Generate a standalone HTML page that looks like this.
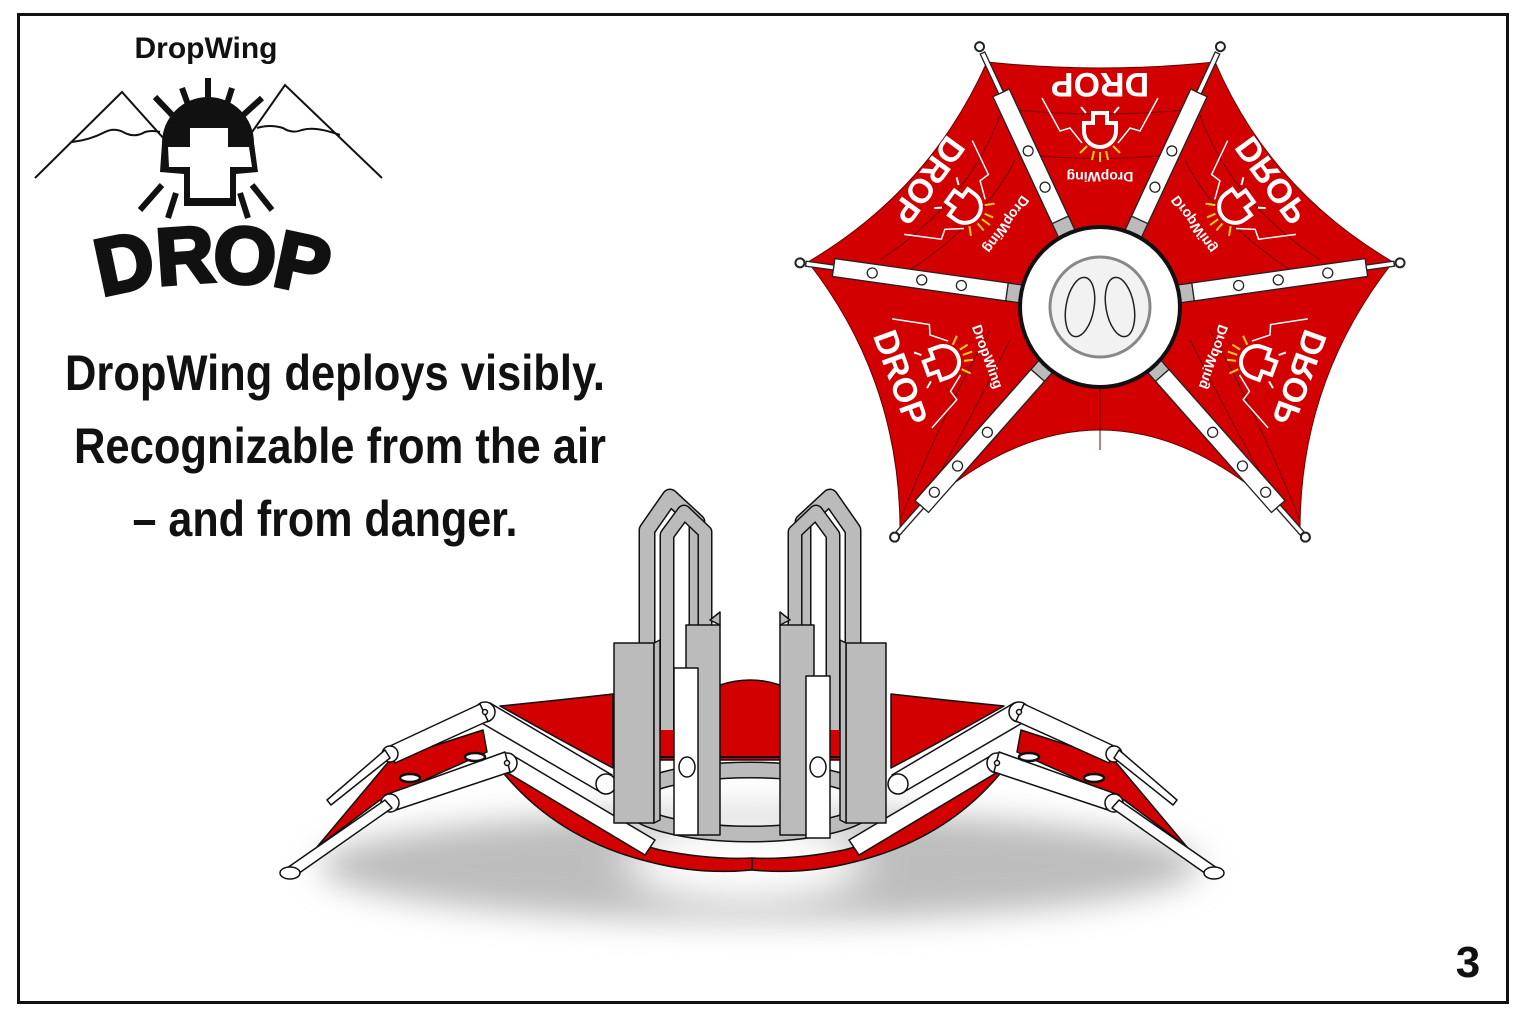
<!DOCTYPE html>
<html><head><meta charset="utf-8"><style>
html,body{margin:0;padding:0;background:#fff;}
svg{display:block;}
</style></head><body>
<svg width="1528" height="1024" viewBox="0 0 1528 1024" xmlns="http://www.w3.org/2000/svg">
<defs>
<filter id="bl" x="-20%" y="-80%" width="140%" height="260%"><feGaussianBlur stdDeviation="16"/></filter>
<filter id="bl2" x="-50%" y="-100%" width="200%" height="300%"><feGaussianBlur stdDeviation="22"/></filter>
<g id="emb">
  <path d="M-18,-10 L-30,5 L-40,2 L-58,35 M18,-10 L30,5 L40,2 L58,35" stroke="#fff" stroke-width="1.5" fill="none"/>
  <path d="M-16,2 A16,16 0 0 1 16,2 L16,10 L7,10 L7,20 L-7,20 L-7,10 L-16,10 Z" fill="none" stroke="#fff" stroke-width="4"/>
  <path d="M-6,-18 L-8,-27 M0,-19 L0,-29 M6,-18 L8,-27 M-13,-13 L-20,-20 M13,-13 L20,-20" stroke="#ffd200" stroke-width="2"/>
  <path d="M-14,20 L-19,26 M14,20 L19,26" stroke="#fff" stroke-width="2"/>
</g>
</defs>
<rect x="18.5" y="14.5" width="1489" height="988" fill="#fff" stroke="#111" stroke-width="3"/>

<!-- Logo -->
<text x="206" y="58" font-family="Liberation Sans, sans-serif" font-weight="bold" font-size="30" text-anchor="middle" fill="#111">DropWing</text>
<path d="M35,178 L122,92 L165,140" stroke="#111" stroke-width="2" fill="none"/>
<path d="M72,142 Q90,140 105,132 Q115,127 125,133 Q135,138 145,132 Q152,130 160,132" stroke="#111" stroke-width="2" fill="none"/>
<path d="M250,135 L285,85 L382,178" stroke="#111" stroke-width="2" fill="none"/>
<path d="M257,128 Q270,124 283,128 Q292,134 302,130 Q315,126 340,135" stroke="#111" stroke-width="2" fill="none"/>
<path d="M162,143 A46,46 0 0 1 254,143 L258,172 L236,174 L236,206 L184,206 L184,174 L160,172 Z" fill="#111"/>
<path d="M168,147 L190,147 L190,128 L228,128 L228,147 L249,147 L252,167 L230,167 L230,198 L190,198 L190,167 L169,167 Z" fill="#fff"/>
<path d="M155,97 L175,118 M182,88 L190,110 M208,78 L208,102 M232,88 L225,110 M262,98 L240,118 M162,185 L140,210 M176,193 L168,218 M240,193 L248,218 M252,185 L272,210" stroke="#111" stroke-width="6"/>
<g font-family="Liberation Sans, sans-serif" font-weight="bold" font-size="80" fill="#111" stroke="#111" stroke-width="4" text-anchor="middle">
<text transform="translate(130,290) rotate(-12)">D</text>
<text transform="translate(187,283) rotate(-4)">R</text>
<text transform="translate(243,283) rotate(4)">O</text>
<text transform="translate(297,290) rotate(12)">P</text>
</g>

<!-- Headline -->
<g font-family="Liberation Sans Narrow, Liberation Sans, sans-serif" font-weight="bold" font-size="50" fill="#111" text-anchor="middle">
<text x="335" y="390" textLength="540" lengthAdjust="spacingAndGlyphs">DropWing deploys visibly.</text>
<text x="340" y="463" textLength="532" lengthAdjust="spacingAndGlyphs">Recognizable from the air</text>
<text x="325" y="536" textLength="385" lengthAdjust="spacingAndGlyphs">– and from danger.</text>
</g>

<text x="1468" y="977" font-family="Liberation Sans, sans-serif" font-weight="bold" font-size="44" text-anchor="middle" fill="#111">3</text>

<!-- Top view hexagon -->
<g>
<path d="M987,62 Q1100,74 1215,62 Q1270,190 1393,262 Q1300,380 1300,530 Q1100,330 900,530 Q900,380 808,262 Q930,190 987,62 Z" fill="#d20000" stroke="#600" stroke-width="1"/>
<g stroke="#700" stroke-width="1" fill="none">
<path d="M1015,110 Q1100,118 1185,110 M1030,155 Q1100,162 1170,155"/>
<path d="M1200,115 Q1230,200 1320,260 M1185,160 Q1215,220 1290,270"/>
<path d="M1000,115 Q970,200 880,260 M1015,160 Q985,220 910,270"/>
<path d="M1210,330 Q1260,420 1300,520 M1190,340 Q1230,420 1270,490"/>
<path d="M990,330 Q940,420 900,520 M1010,340 Q970,420 930,490"/>
<path d="M1100,385 L1100,450"/>
</g>
<g stroke="#222" stroke-width="1.3">
<g transform="translate(1100,305) rotate(-115)"><rect x="78" y="-9" width="16" height="18" fill="#bbb"/><rect x="94" y="-9" width="140" height="18" fill="#fff"/><rect x="234" y="-2.5" width="44" height="5" fill="#fff"/><circle cx="130" cy="0" r="5" fill="#fff"/><circle cx="170" cy="0" r="5" fill="#fff"/><circle cx="285" cy="0" r="4.5" fill="#fff" stroke-width="2"/></g>
<g transform="translate(1100,305) rotate(-65)"><rect x="78" y="-9" width="16" height="18" fill="#bbb"/><rect x="94" y="-9" width="140" height="18" fill="#fff"/><rect x="234" y="-2.5" width="44" height="5" fill="#fff"/><circle cx="130" cy="0" r="5" fill="#fff"/><circle cx="170" cy="0" r="5" fill="#fff"/><circle cx="285" cy="0" r="4.5" fill="#fff" stroke-width="2"/></g>
<g transform="translate(1100,305) rotate(-8)"><rect x="78" y="-9" width="16" height="18" fill="#bbb"/><rect x="94" y="-9" width="175" height="18" fill="#fff"/><rect x="269" y="-2.5" width="28" height="5" fill="#fff"/><circle cx="140" cy="0" r="5" fill="#fff"/><circle cx="180" cy="0" r="5" fill="#fff"/><circle cx="230" cy="0" r="5" fill="#fff"/><circle cx="303" cy="0" r="4.5" fill="#fff" stroke-width="2"/></g>
<g transform="translate(1100,305) rotate(188)"><rect x="78" y="-9" width="16" height="18" fill="#bbb"/><rect x="94" y="-9" width="175" height="18" fill="#fff"/><rect x="269" y="-2.5" width="28" height="5" fill="#fff"/><circle cx="140" cy="0" r="5" fill="#fff"/><circle cx="180" cy="0" r="5" fill="#fff"/><circle cx="230" cy="0" r="5" fill="#fff"/><circle cx="303" cy="0" r="4.5" fill="#fff" stroke-width="2"/></g>
<g transform="translate(1100,305) rotate(48.5)"><rect x="78" y="-9" width="16" height="18" fill="#bbb"/><rect x="94" y="-9" width="175" height="18" fill="#fff"/><rect x="269" y="-2.5" width="36" height="5" fill="#fff"/><circle cx="170" cy="0" r="5" fill="#fff"/><circle cx="215" cy="0" r="5" fill="#fff"/><circle cx="250" cy="0" r="5" fill="#fff"/><circle cx="310" cy="0" r="4.5" fill="#fff" stroke-width="2"/></g>
<g transform="translate(1100,305) rotate(131.5)"><rect x="78" y="-9" width="16" height="18" fill="#bbb"/><rect x="94" y="-9" width="175" height="18" fill="#fff"/><rect x="269" y="-2.5" width="36" height="5" fill="#fff"/><circle cx="170" cy="0" r="5" fill="#fff"/><circle cx="215" cy="0" r="5" fill="#fff"/><circle cx="250" cy="0" r="5" fill="#fff"/><circle cx="310" cy="0" r="4.5" fill="#fff" stroke-width="2"/></g>
</g>
<circle cx="1100" cy="307" r="80" fill="#fff" stroke="#111" stroke-width="4"/>
<circle cx="1100" cy="307" r="50" fill="#f2f2f2" stroke="#888" stroke-width="3"/>
<ellipse cx="1080" cy="307" rx="14" ry="30" fill="none" stroke="#222" stroke-width="1.5" transform="rotate(10 1080 307)"/>
<ellipse cx="1120" cy="307" rx="14" ry="30" fill="none" stroke="#222" stroke-width="1.5" transform="rotate(-10 1120 307)"/>
<g font-family="Liberation Sans, sans-serif" fill="#fff" text-anchor="middle">
  <g transform="translate(1100,305) rotate(-180)">
    <text x="0" y="232" font-size="34" font-weight="bold">DROP</text>
    <use href="#emb" transform="translate(0,172)"/>
    <text x="0" y="133" font-size="14" font-weight="bold">DropWing</text>
  </g>
  <g transform="translate(1100,305) rotate(126)">
    <text x="0" y="224" font-size="34" font-weight="bold">DROP</text>
    <use href="#emb" transform="translate(0,165)"/>
    <text x="-10" y="128" font-size="14" font-weight="bold">DropWing</text>
  </g>
  <g transform="translate(1100,305) rotate(70)">
    <text x="0" y="224" font-size="34" font-weight="bold">DROP</text>
    <use href="#emb" transform="translate(0,165)"/>
    <text x="10" y="128" font-size="14" font-weight="bold">DropWing</text>
  </g>
  <g transform="translate(1100,305) scale(-1,1) rotate(126)">
    <text x="0" y="224" font-size="34" font-weight="bold">DROP</text>
    <use href="#emb" transform="translate(0,165)"/>
    <text x="-10" y="128" font-size="14" font-weight="bold">DropWing</text>
  </g>
  <g transform="translate(1100,305) scale(-1,1) rotate(70)">
    <text x="0" y="224" font-size="34" font-weight="bold">DROP</text>
    <use href="#emb" transform="translate(0,165)"/>
    <text x="10" y="128" font-size="14" font-weight="bold">DropWing</text>
  </g>
</g>
</g>

<!-- Lower perspective view -->
<ellipse cx="760" cy="866" rx="440" ry="55" fill="#bdbdbd" filter="url(#bl)"/>
<ellipse cx="745" cy="860" rx="120" ry="45" fill="#fff" filter="url(#bl2)"/>

<g stroke="#111" stroke-width="1.5" stroke-linejoin="round">
<path d="M650,665 Q700,690 720,685 Q750,675 780,685 Q800,690 850,665 L850,760 L650,760 Z" fill="#d20000"/>
<path d="M650,757 L850,757" stroke-width="2"/>
</g>

<g id="leftleg" stroke="#111" stroke-width="1.5" stroke-linejoin="round">
<path d="M500,706 Q560,700 613,694 L613,768 Q560,740 500,706 Z" fill="#d20000"/>
<path d="M483,730 L390,760 L317,847 L380,800 L487,752 Z" fill="#d20000"/>
<path d="M510,760 Q580,830 660,850 Q710,860 752,858 L752,870 Q700,875 650,862 Q560,840 505,775 Z" fill="#d20000"/>
<g fill="#fff">
<path d="M490,703 L612,775 L602,793 L480,722 Z"/>
<circle cx="485" cy="712" r="10"/><circle cx="606" cy="784" r="10" />
<path d="M480,704 L390,746 L395,763 L488,721 Z"/>
<circle cx="390" cy="754" r="8"/>
<path d="M385,750 L327,800 L331,805 L390,758 Z"/>
<path d="M512,755 L655,840 L645,855 L503,770 Z"/>
<circle cx="507" cy="763" r="10"/>
<path d="M505,752 L385,795 L390,812 L510,772 Z"/>
<circle cx="390" cy="803" r="9"/>
<path d="M385,800 L287,868 L295,876 L392,808 Z"/>
<ellipse cx="290" cy="873" rx="10" ry="6"/>
<ellipse cx="410" cy="778" rx="10" ry="4" stroke-width="2.5"/>
<ellipse cx="475" cy="757" rx="10" ry="4" stroke-width="2.5"/>
</g>
<circle cx="485" cy="712" r="2.5" fill="#fff"/><circle cx="507" cy="763" r="2.5" fill="#fff"/>
</g>
<use href="#leftleg" transform="translate(1504,0) scale(-1,1)"/>

<g stroke="#111" stroke-width="1.5" stroke-linejoin="round">
<ellipse cx="750" cy="802" rx="120" ry="32" fill="none" stroke="#111" stroke-width="17"/>
<ellipse cx="750" cy="802" rx="120" ry="32" fill="none" stroke="#bbb" stroke-width="14"/>
<g fill="none">
<path d="M647,700 L647,530 L670,497 L697,522 L697,640" stroke="#111" stroke-width="17"/>
<path d="M647,700 L647,530 L670,497 L697,522 L697,640" stroke="#bbb" stroke-width="14"/>
<path d="M667,730 L667,535 L684,512 L705,532 L705,650" stroke="#111" stroke-width="15"/>
<path d="M667,730 L667,535 L684,512 L705,532 L705,650" stroke="#bbb" stroke-width="12"/>
<path d="M853,700 L853,530 L830,497 L803,522 L803,640" stroke="#111" stroke-width="17"/>
<path d="M853,700 L853,530 L830,497 L803,522 L803,640" stroke="#bbb" stroke-width="14"/>
<path d="M833,730 L833,535 L816,512 L795,532 L795,650" stroke="#111" stroke-width="15"/>
<path d="M833,730 L833,535 L816,512 L795,532 L795,650" stroke="#bbb" stroke-width="12"/>
</g>
<g fill="#bbb">
<rect x="614" y="643" width="40" height="180"/>
<path d="M654,643 L660,640 L660,820 L654,823 Z"/>
<rect x="686" y="625" width="34" height="210"/>
<path d="M720,625 L720,612 L710,620 Z"/>
<rect x="780" y="625" width="34" height="210"/>
<path d="M780,625 L780,612 L790,620 Z"/>
<rect x="846" y="643" width="40" height="180"/>
<path d="M846,643 L840,640 L840,820 L846,823 Z"/>
</g>
<rect x="674" y="668" width="24" height="167" fill="#fff"/>
<rect x="806" y="676" width="24" height="162" fill="#fff"/>
<ellipse cx="687" cy="767" rx="8" ry="10" fill="#fff"/>
<ellipse cx="818" cy="767" rx="8" ry="10" fill="#fff"/>
</g>
</svg>
</body></html>
